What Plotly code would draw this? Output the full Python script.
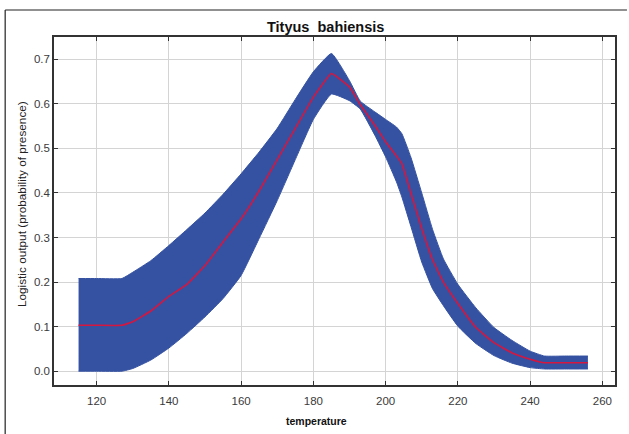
import plotly.graph_objects as go

# ---- data ----
temperature = [115, 120, 127, 130, 135, 140, 145, 150, 155, 160, 165, 170, 175, 180,
               185, 190, 193, 197, 200, 203, 204.5, 207, 210, 213, 216, 220, 225, 230,
               235, 240, 244, 250, 256]
mean_resp = [0.103, 0.103, 0.103, 0.111, 0.135, 0.168, 0.195, 0.237, 0.290, 0.342, 0.405,
             0.475, 0.545, 0.615, 0.668, 0.638, 0.598, 0.552, 0.515, 0.483, 0.466, 0.400,
             0.320, 0.250, 0.200, 0.152, 0.098, 0.064, 0.041, 0.027, 0.019, 0.019, 0.019]
upper_resp = [0.208, 0.208, 0.208, 0.222, 0.248, 0.282, 0.318, 0.355, 0.397, 0.443, 0.492,
              0.545, 0.610, 0.672, 0.713, 0.652, 0.606, 0.582, 0.565, 0.548, 0.533, 0.480,
              0.400, 0.318, 0.252, 0.195, 0.142, 0.098, 0.069, 0.045, 0.034, 0.034, 0.034]
lower_resp = [0.0, 0.0, 0.0, 0.006, 0.025, 0.052, 0.085, 0.122, 0.163, 0.215, 0.298,
              0.383, 0.475, 0.565, 0.622, 0.607, 0.588, 0.530, 0.481, 0.425, 0.391, 0.325,
              0.245, 0.185, 0.147, 0.101, 0.062, 0.035, 0.018, 0.008, 0.005, 0.005, 0.005]
x_ticks = [120, 140, 160, 180, 200, 220, 240, 260]
y_ticks = [0.0, 0.1, 0.2, 0.3, 0.4, 0.5, 0.6, 0.7]

BAND = "rgb(53,82,162)"
RED = "rgb(214,22,62)"

fig = go.Figure()
fig.add_trace(go.Scatter(x=temperature, y=upper_resp, mode="lines",
                         line=dict(color=BAND, width=1, shape="spline", smoothing=0.4),
                         hoverinfo="skip", showlegend=False))
fig.add_trace(go.Scatter(x=temperature, y=lower_resp, mode="lines",
                         line=dict(color=BAND, width=1, shape="spline", smoothing=0.4),
                         fill="tonexty", fillcolor=BAND, hoverinfo="skip", showlegend=False))
fig.add_trace(go.Scatter(x=temperature, y=mean_resp, mode="lines",
                         line=dict(color=RED, width=1.6, shape="spline", smoothing=0.3),
                         showlegend=False))

W, H = 629, 434
L, R, T, B = 54, 12, 37, 49
pw, ph = W - L - R, H - T - B

def px_to_paper_x(px):
    return (px - L) / pw

def py_to_paper_y(py):
    return (H - B - py) / ph

axis_common = dict(showgrid=True, gridcolor="#d4d4d4", gridwidth=1,
                   showline=True, linecolor="#333333", linewidth=1.5, mirror="ticks",
                   ticks="inside", ticklen=4, tickcolor="#333333", zeroline=False,
                   tickfont=dict(family="Liberation Sans, Arial", size=11.5, color="#3a3a3a"))

fig.update_layout(
    width=W, height=H,
    margin=dict(l=L, r=R, t=T, b=B),
    paper_bgcolor="white", plot_bgcolor="white",
    xaxis=dict(range=[108.2, 263.5], tickvals=x_ticks, ticklabelstandoff=4,
               ticktext=[str(v) for v in x_ticks], **axis_common),
    yaxis=dict(range=[-0.031, 0.75], tickvals=y_ticks,
               ticktext=[f"{v:.1f}" for v in y_ticks], **axis_common),
    annotations=[
        dict(text="<b>Tityus  bahiensis</b>", x=px_to_paper_x(326.5), y=py_to_paper_y(27),
             xref="paper", yref="paper", showarrow=False, xanchor="center", yanchor="middle",
             font=dict(family="Liberation Sans, Arial", size=14.5, color="#111111")),
        dict(text="<b>temperature</b>", x=px_to_paper_x(317), y=py_to_paper_y(421),
             xref="paper", yref="paper", showarrow=False, xanchor="center", yanchor="middle",
             font=dict(family="Liberation Sans, Arial", size=10.5, color="#111111")),
        dict(text="Logistic output (probability of presence)", x=px_to_paper_x(22),
             y=py_to_paper_y(204), xref="paper", yref="paper", showarrow=False,
             textangle=-90, xanchor="center", yanchor="middle",
             font=dict(family="Liberation Sans, Arial", size=11.8, color="#222222")),
    ],
    shapes=[
        dict(type="line", xref="paper", yref="paper",
             x0=px_to_paper_x(5), y0=py_to_paper_y(10), x1=px_to_paper_x(629), y1=py_to_paper_y(10),
             line=dict(color="#222222", width=1.2)),
        dict(type="line", xref="paper", yref="paper",
             x0=px_to_paper_x(5), y0=py_to_paper_y(10), x1=px_to_paper_x(5), y1=py_to_paper_y(434),
             line=dict(color="#222222", width=1.2)),
    ],
)

fig.write_html("out.html", config={"displayModeBar": False},
               post_script="document.body.style.margin='0';document.body.style.overflow='hidden';")
